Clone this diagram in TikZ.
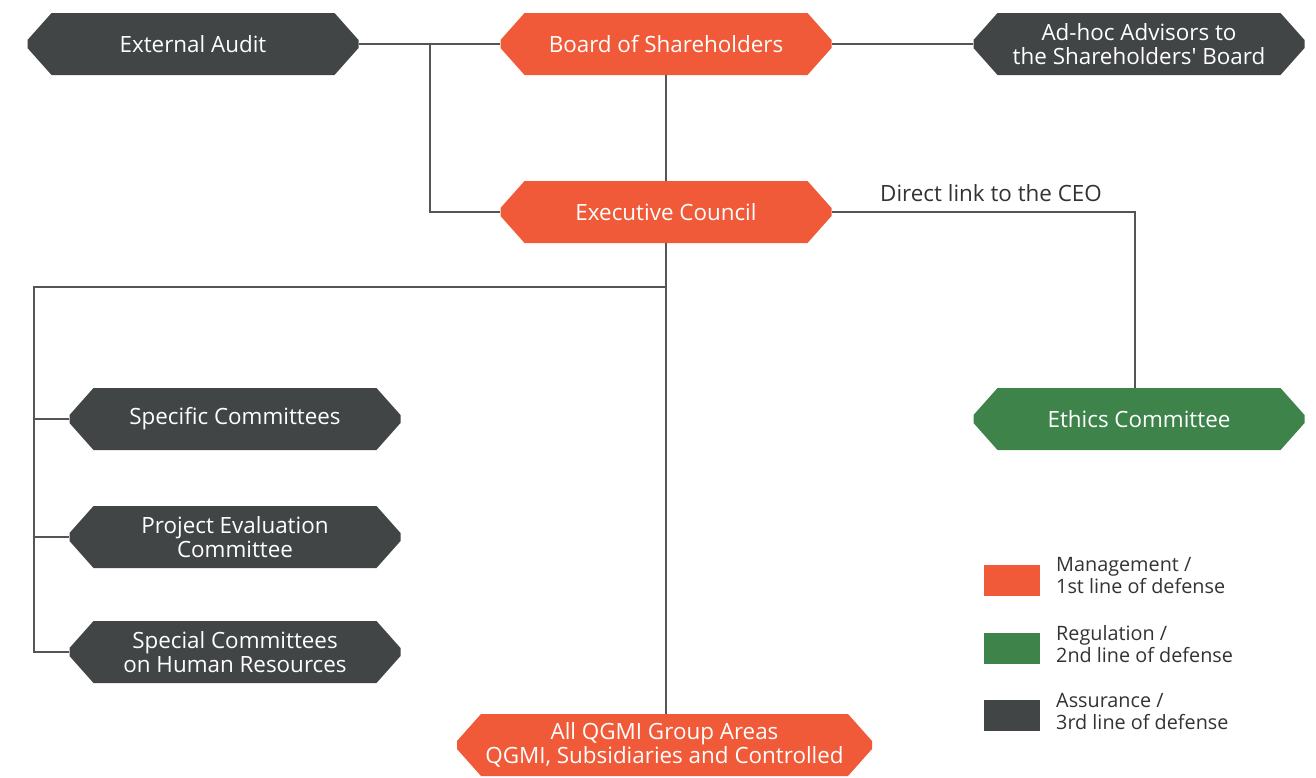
\documentclass[tikz,border=0pt]{standalone}
\usepackage{fontspec}
\setmainfont{Open Sans}[Ligatures=TeXOff]
\usetikzlibrary{calc}
\definecolor{mgmt}{HTML}{F05A38}
\definecolor{regl}{HTML}{3E834A}
\definecolor{assu}{HTML}{414546}
\definecolor{lnk}{HTML}{555555}
\definecolor{txt}{HTML}{333333}
\tikzset{
  oct/.style={rectangle, minimum width=331pt, minimum height=62pt, inner sep=0pt,
    text=white, align=center, font=\fontsize{22.4}{24}\selectfont,
    path picture={\fill[#1]
      ([xshift=24pt]path picture bounding box.north west) --
      ([xshift=-24pt]path picture bounding box.north east) --
      ([yshift=4pt]path picture bounding box.east) --
      ([yshift=-4pt]path picture bounding box.east) --
      ([xshift=-24pt]path picture bounding box.south east) --
      ([xshift=24pt]path picture bounding box.south west) --
      ([yshift=-4pt]path picture bounding box.west) --
      ([yshift=4pt]path picture bounding box.west) -- cycle;}},
  conn/.style={draw=lnk, line width=1.6pt},
  legbox/.style={fill=#1, minimum width=56pt, minimum height=31pt, inner sep=0pt},
  legtxt/.style={anchor=west, align=left, text=txt, font=\fontsize{19.8}{22}\selectfont, inner sep=0pt},
}
\begin{document}
\begin{tikzpicture}[x=1pt,y=-1pt]
\useasboundingbox[fill=white] (0,0) rectangle (1316,777);
\node[oct=assu] (ext) at (193,44) {External Audit};
\node[oct=mgmt] (board) at (666,44) {Board of Shareholders};
\node[oct=assu] (adhoc) at (1139,44) {Ad-hoc Advisors to\\the Shareholders' Board};
\node[oct=mgmt] (exec) at (666,212) {Executive Council};
\node[oct=regl] (ethics) at (1139,419) {Ethics Committee};
\node[oct=assu] (spec) at (235,419) {Specific Committees};
\node[oct=assu] (proj) at (235,537) {Project Evaluation\\Committee};
\node[oct=assu] (hr) at (235,652) {Special Committees\\on Human Resources};
\node[oct=mgmt, minimum width=415pt] (all) at (664.5,745) {All QGMI Group Areas\\QGMI, Subsidiaries and Controlled};

\coordinate (ja) at (430,44);
\coordinate (ceo) at (1135,212);
\coordinate (br) at (666,287);
\coordinate (bl) at (34,287);

\draw[conn] (ext.east) -- (board.west);
\draw[conn] (ja) -- (ja |- exec.west) -- (exec.west);
\draw[conn] (board.south) -- (exec.north);
\draw[conn] (board.east) -- (adhoc.west);
\draw[conn] (exec.east) -- (ceo) -- (ceo |- ethics.north);
\draw[conn] (exec.south) -- (br |- all.north);
\draw[conn] (br) -- (bl) -- (bl |- hr.west) -- (hr.west);
\draw[conn] (bl |- spec.west) -- (spec.west);
\draw[conn] (bl |- proj.west) -- (proj.west);

\node[anchor=south west, text=txt, font=\fontsize{22.4}{24}\selectfont, inner sep=0pt] (lbl) at (880,202) {Direct link to the CEO};

\node[legbox=mgmt] (l1) at (1012,580.5) {};
\node[legbox=regl] (l2) at (1012,648.5) {};
\node[legbox=assu] (l3) at (1012,715.5) {};
\node[legtxt] (t1) at (1056,576) {Management /\\1st line of defense};
\node[legtxt] (t2) at (1056,644) {Regulation /\\2nd line of defense};
\node[legtxt] (t3) at (1056,711) {Assurance /\\3rd line of defense};
\end{tikzpicture}
\end{document}
